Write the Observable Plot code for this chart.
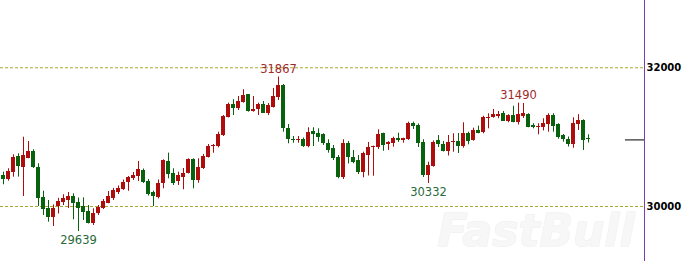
<!DOCTYPE html>
<html>
<head>
<meta charset="utf-8">
<script src="https://cdn.jsdelivr.net/npm/d3@7"></script>
<script src="https://cdn.jsdelivr.net/npm/@observablehq/plot@0.6"></script>
<style>
  html, body { margin: 0; padding: 0; background: #ffffff; }
  #chart svg { display: block; }
</style>
</head>
<body>
<div id="chart"></div>
<script>
// Candle values (price), one per session, left to right
const open = [30447,30389,30495,30721,30567,30696,30793,30567,30130,29967,29837,30000,30053,30087,30144,30062,30000,29928,29751,29895,
29975,30050,30111,30195,30245,30339,30404,30433,30519,30365,30206,30134,30327,30653,30476,30361,30423,30472,30673,30375,
30544,30707,30858,30861,31024,31283,31471,31409,31504,31611,31374,31394,31466,31334,31432,31565,31745,31120,30969,30945,
30973,30858,31082,31057,31034,30913,30832,30711,30414,30913,30711,30663,30495,30735,30846,30855,31048,30890,30913,30985,
30945,30963,31201,31168,30927,30440,30577,30952,30894,30800,30919,30937,30870,31048,30952,31096,31063,31265,31279,31298,
31337,31226,31312,31204,31291,31322,31168,31142,31144,31182,31312,31178,31017,30970,30894,31182,31240,30975];
const high = [30495,30544,30745,30760,30999,30937,30818,30616,30221,30087,30022,30118,30169,30202,30183,30123,30125,30014,29967,30014,
30101,30216,30260,30296,30382,30433,30490,30649,30541,30389,30221,30382,30673,30769,30544,30495,30548,30688,30688,30688,
30750,30894,30894,31071,31312,31490,31539,31586,31683,31611,31586,31490,31514,31485,31702,31867,31759,31182,31009,31009,
30988,31135,31135,31120,31048,30962,30880,30735,30962,30937,30808,30735,30783,30923,30870,31106,31057,30935,30999,31057,
30985,31216,31216,31190,30962,30639,30945,31024,30937,31024,31048,31053,31207,31071,31129,31158,31302,31337,31399,31370,
31370,31322,31446,31490,31485,31337,31193,31193,31265,31337,31337,31193,31038,31002,31279,31324,31250,31034];
const low = [30313,30365,30423,30423,30144,30688,30548,30000,29870,29774,29712,29892,30014,29971,29808,29639,29798,29748,29726,29870,
29957,30039,30087,30173,30231,30219,30375,30361,30332,30151,30000,30108,30255,30399,30303,30303,30241,30469,30255,30336,
30534,30699,30769,30846,31009,31276,31312,31384,31490,31360,31360,31312,31345,31312,31420,31529,31071,30904,30913,30913,
30851,30846,30865,30927,30880,30769,30663,30399,30389,30613,30616,30461,30414,30440,30437,30822,30797,30808,30855,30923,
30913,30952,31110,30851,30418,30332,30567,30851,30786,30728,30783,30764,30841,30890,30942,31048,31048,31120,31273,31265,
31226,31207,31207,31175,31269,31135,31120,31034,31089,31071,31071,30970,30927,30858,30839,31096,30808,30916];
const close = [30385,30509,30711,30577,30735,30793,30558,30115,29957,29841,29978,30079,30111,30149,30050,29978,29913,29759,29895,29981,
30072,30144,30224,30260,30346,30418,30451,30531,30350,30173,30137,30327,30663,30461,30332,30447,30480,30673,30375,30567,
30728,30865,30880,31045,31298,31466,31409,31514,31601,31370,31399,31466,31345,31456,31579,31738,31118,30959,30945,30969,
30858,31071,31038,30999,30904,30808,30699,30414,30913,30702,30639,30495,30760,30855,30870,31038,30880,30927,30985,30952,
30976,31201,31154,30913,30440,30591,30927,30890,30800,30923,30937,30872,31048,30937,31096,31057,31288,31288,31322,31322,
31230,31312,31216,31322,31341,31144,31135,31158,31201,31312,31154,30999,30959,30894,31201,31240,30952,30960];

// Annotated extremes
const highIndex = [55, 103];
const highValue = [31867, 31490];
const lowIndex = [15, 85];
const lowValue = [29639, 30332];

// Axis / grid ticks
const gridTicks = [30000, 32000];

const UP = "#ad0d0d", DOWN = "#08620d";
const rows = open.map((o, i) => ({i, o, h: high[i], l: low[i], c: close[i]}));
const highs = highIndex.map((i, k) => ({i, v: highValue[k]}));
const lows = lowIndex.map((i, k) => ({i, v: lowValue[k]}));
const xMin = -0.6, xMax = 128.2;
const lastClose = close[close.length - 1];

const chart = Plot.plot({
  width: 689,
  height: 261,
  marginLeft: 0,
  marginRight: 45,
  marginTop: 0,
  marginBottom: 0,
  style: {background: "#ffffff", fontFamily: "DejaVu Sans, sans-serif"},
  x: {domain: [xMin, xMax], axis: null},
  y: {domain: [29207, 32970], axis: null},
  marks: [
    Plot.text(["FastBull"], {frameAnchor: "bottom-right", dx: -10, dy: -16, fontSize: 44, fontWeight: "bold", fontStyle: "italic", fill: "#f7f7f7", stroke: "#eeeeee", strokeWidth: 1}),
    Plot.ruleY(gridTicks, {stroke: "#a8a830", strokeDasharray: "3,2", strokeWidth: 1}),
    Plot.ruleX(rows, {x: "i", y1: "l", y2: "h", stroke: d => d.c >= d.o ? UP : DOWN, strokeWidth: 1}),
    Plot.rect(rows, {x1: d => d.i - 0.4, x2: d => d.i + 0.4, y1: "o", y2: "c", fill: d => d.c >= d.o ? UP : DOWN, shapeRendering: "crispEdges"}),
    Plot.text(highs, {x: "i", y: "v", text: d => String(d.v), dy: -8, fontSize: 11.5, fill: "#a02a2a"}),
    Plot.text(lows, {x: "i", y: "v", text: d => String(d.v), dy: 9, fontSize: 11.5, fill: "#2a6a3a"}),
    Plot.ruleX([xMax], {stroke: "#7b3db5", strokeWidth: 1}),
    Plot.ruleY([lastClose], {x1: 124.4, x2: xMax, stroke: "#000000", strokeWidth: 1}),
    Plot.text(gridTicks, {x: xMax, y: d => d, text: d => String(d), textAnchor: "start", dx: 2, fontSize: 10, fontWeight: "bold", fill: "#000000"})
  ]
});
document.getElementById("chart").appendChild(chart);
</script>
</body>
</html>
